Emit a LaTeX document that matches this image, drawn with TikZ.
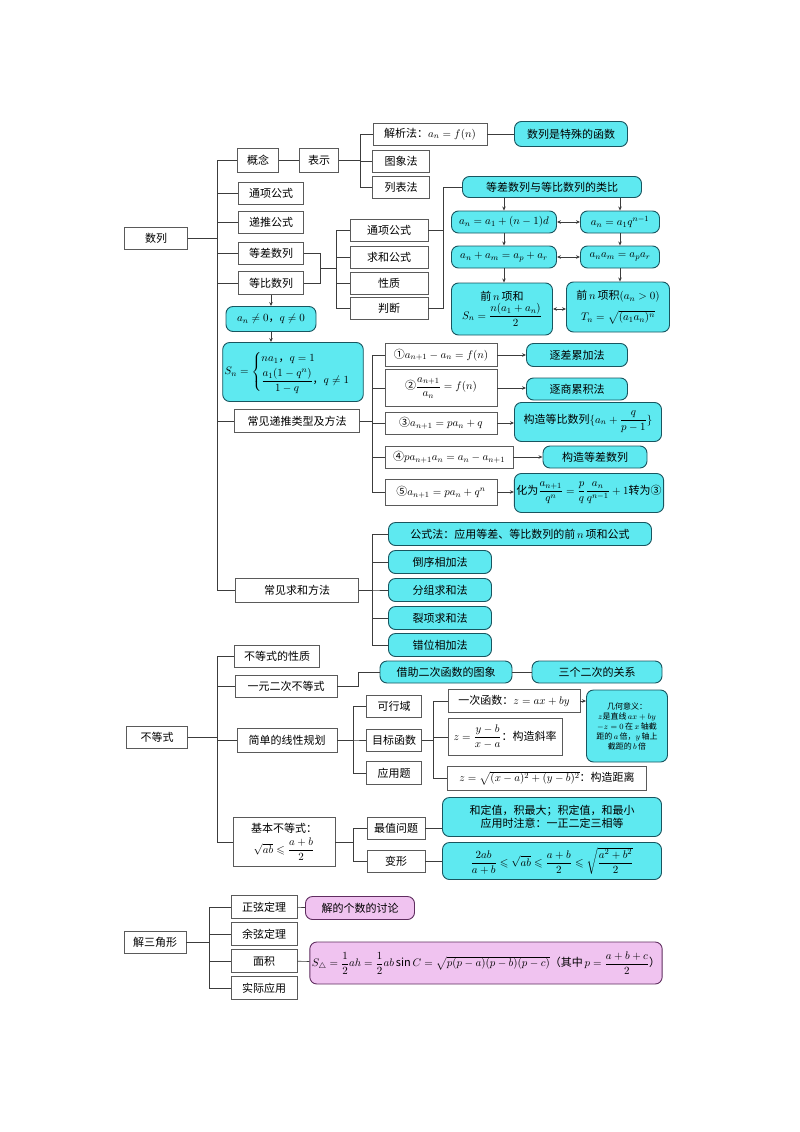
\documentclass[tikz,border=0pt]{standalone}
\usepackage{amsmath,amssymb}
\usepackage{fontspec}
\setmainfont{Noto Sans CJK SC}
\usetikzlibrary{arrows.meta}
\definecolor{boxline}{RGB}{90,90,90}
\definecolor{linkgray}{RGB}{60,60,60}
\definecolor{cyanfill}{RGB}{94,233,240}
\definecolor{cyanline}{RGB}{25,85,95}
\definecolor{pinkfill}{RGB}{240,195,240}
\definecolor{pinkline}{RGB}{95,45,95}

\begin{document}
\begin{tikzpicture}[x=1pt, y=-1pt,
  font=\fontsize{11}{13}\selectfont,
  >=Stealth,
  box/.style={rectangle, draw=boxline, fill=white, line width=0.6pt,
    inner sep=1pt, align=center},
  cbox/.style={rectangle, rounded corners=7pt, draw=cyanline, fill=cyanfill,
    line width=0.9pt, inner sep=2pt, align=center},
  pbox/.style={rectangle, rounded corners=7pt, draw=pinkline, fill=pinkfill,
    line width=0.9pt, inner sep=2pt, align=center},
  sz/.style 2 args={minimum width=#1pt, minimum height=#2pt},
  link/.style={draw=linkgray, line width=0.7pt},
  arrow/.style={link, -{Stealth[length=4pt,width=3.5pt]}},
  twoway/.style={link, {Stealth[length=4pt,width=3.5pt]}-{Stealth[length=4pt,width=3.5pt]}}
]
\useasboundingbox (0,0) rectangle (800,1132);

% 数列 — left column
\node[box, sz={63}{22}] (shulie)    at (156,238) {数列};
\node[box, sz={41}{24}] (gainian)   at (258,160) {概念};
\node[box, sz={39}{24}] (biaoshi)   at (319,160) {表示};
\node[box, sz={65}{22}] (tongxiang) at (271,193) {通项公式};
\node[box, sz={65}{22}] (ditui)     at (271,222) {递推公式};
\node[box, sz={65}{22}] (dengcha)   at (271,253) {等差数列};
\node[box, sz={65}{23}] (dengbi)    at (271,283) {等比数列};
\node[cbox, sz={90}{25}] (cond)     at (271,319) {$a_n\neq0$，$q\neq0$};
\node[cbox, sz={137}{59}] (sumq)    at (293,372)
  {$S_n=\begin{cases} na_1\text{，}q=1\\[2pt] \dfrac{a_1(1-q^n)}{1-q}\text{，}q\neq1\end{cases}$};
\node[box, sz={125}{23}] (tuilei)   at (297,421) {常见递推类型及方法};
\node[box, sz={123}{24}] (qiuhe)    at (297,590) {常见求和方法};

% 表示
\node[box, sz={114}{22}] (jiexi)    at (430,134) {解析法：$a_n=f(n)$};
\node[cbox, sz={113}{25}] (hanshu)  at (571,134) {数列是特殊的函数};
\node[box, sz={57}{22}] (tuxiang)   at (401,161) {图象法};
\node[box, sz={57}{22}] (liebiao)   at (401,187) {列表法};

% 等差与等比
\node[box, sz={78}{22}] (txgs) at (389,230) {通项公式};
\node[box, sz={78}{22}] (qhgs) at (389,257) {求和公式};
\node[box, sz={78}{22}] (xz)   at (389,283) {性质};
\node[box, sz={78}{22}] (pd)   at (389,308) {判断};
\node[cbox, sz={179}{21}] (leibi) at (552,187) {等差数列与等比数列的类比};
\node[cbox, sz={105}{22}] (a1) at (504,222) {$a_n=a_1+(n-1)d$};
\node[cbox, sz={79}{22}]  (b1) at (620,222) {$a_n=a_1q^{n-1}$};
\node[cbox, sz={105}{22}] (a2) at (504,257) {$a_n+a_m=a_p+a_r$};
\node[cbox, sz={79}{22}]  (b2) at (620,257) {$a_na_m=a_pa_r$};
\node[cbox, sz={101}{52}] (a3) at (502,309)
  {前$\,n\,$项和\\[1pt] $S_n=\dfrac{n(a_1+a_n)}{2}$};
\node[cbox, sz={103}{50}] (b3) at (618,307)
  {前$\,n\,$项积$(a_n>0)$\\[7pt] $T_n=\sqrt{(a_1a_n)^n}$};

% 递推类型
\node[box, sz={112}{23}] (r1) at (441,355) {①$a_{n+1}-a_n=f(n)$};
\node[box, sz={112}{37}] (r2) at (441,388) {②$\dfrac{a_{n+1}}{a_n}=f(n)$};
\node[box, sz={112}{22}] (r3) at (441,423) {③$a_{n+1}=pa_n+q$};
\node[box, sz={128}{22}] (r4) at (449,457) {④$pa_{n+1}a_n=a_n-a_{n+1}$};
\node[box, sz={112}{26}] (r5) at (441,492) {⑤$a_{n+1}=pa_n+q^n$};
\node[cbox, sz={101}{23}] (m1) at (577,355) {逐差累加法};
\node[cbox, sz={101}{22}] (m2) at (577,389) {逐商累积法};
\node[cbox, sz={147}{39}] (m3) at (588,422)
  {构造等比数列$\{a_n+\dfrac{q}{p-1}\}$};
\node[cbox, sz={104}{22}] (m4) at (595,457) {构造等差数列};
\node[cbox, sz={148}{39}] (m5) at (589,493)
  {化为$\dfrac{a_{n+1}}{q^n}=\dfrac{p}{q}\dfrac{a_n}{q^{n-1}}+1$转为③};

% 求和方法
\node[cbox, sz={263}{23}] (s0) at (520,534) {公式法：应用等差、等比数列的前$\,n\,$项和公式};
\node[cbox, sz={103}{23}] (s1) at (440,562) {倒序相加法};
\node[cbox, sz={103}{23}] (s2) at (440,590) {分组求和法};
\node[cbox, sz={103}{23}] (s3) at (440,618) {裂项求和法};
\node[cbox, sz={103}{23}] (s4) at (440,645) {错位相加法};

% 不等式
\node[box, sz={61}{22}]  (budeng) at (157,737) {不等式};
\node[box, sz={85}{22}]  (bx)     at (277,656) {不等式的性质};
\node[box, sz={102}{22}] (yy)     at (286,686) {一元二次不等式};
\node[box, sz={100}{24}] (xg)     at (287,740) {简单的线性规划};
\node[box, sz={102}{49}] (jb)     at (284,842) {基本不等式：\\[4pt] $\sqrt{ab}\leqslant\dfrac{a+b}{2}$};
\node[cbox, sz={132}{22}] (tu)    at (446,672) {借助二次函数的图象};
\node[cbox, sz={130}{22}] (sg)    at (597,672) {三个二次的关系};
\node[box, sz={55}{22}] (kx) at (394,706) {可行域};
\node[box, sz={55}{22}] (mb) at (394,740) {目标函数};
\node[box, sz={55}{23}] (yt) at (394,773) {应用题};
\node[box, sz={132}{23}] (yc) at (514,701) {一次函数：$z=ax+by$};
\node[box, sz={114}{37}] (xl) at (505,737) {$z=\dfrac{y-b}{x-a}$：构造斜率};
\node[box, sz={199}{24}] (jl) at (547,778) {$z=\sqrt{(x-a)^2+(y-b)^2}$：构造距离};
\node[cbox, sz={81}{72}, font=\fontsize{8}{10}\selectfont, inner sep=1pt] (jh) at (627,726)
  {几何意义：\\ $z$是直线$\,ax+by$\\ $-z=0\,$在$\,x\,$轴截\\ 距的$\,a\,$倍，$y\,$轴上\\ 截距的$\,b\,$倍};
\node[box, sz={58}{22}] (zz)  at (396,828) {最值问题};
\node[box, sz={58}{22}] (bx2) at (396,861) {变形};
\node[cbox, sz={219}{39}] (hd) at (552,817)
  {和定值，积最大；积定值，和最小\\ 应用时注意：一正二定三相等};
\node[cbox, sz={219}{37}] (bd) at (552,861)
  {$\dfrac{2ab}{a+b}\leqslant\sqrt{ab}\leqslant\dfrac{a+b}{2}\leqslant\sqrt{\dfrac{a^2+b^2}{2}}$};

% 解三角形
\node[box, sz={62}{22}] (sj) at (155,942) {解三角形};
\node[box, sz={66}{23}] (zx) at (264,907) {正弦定理};
\node[box, sz={66}{23}] (yx) at (264,934) {余弦定理};
\node[box, sz={66}{23}] (mj) at (264,961) {面积};
\node[box, sz={66}{23}] (sy) at (264,988) {实际应用};
\node[pbox, sz={109}{23}] (gs) at (360,908) {解的个数的讨论};
\node[pbox, sz={340}{42}] (mf) at (486,963)
  {$S_\triangle=\dfrac12ah=\dfrac12ab\sin C=\sqrt{p(p-a)(p-b)(p-c)}$（其中$\,p=\dfrac{a+b+c}{2}$）};

% spines
\coordinate (sp1) at (217,0);
\coordinate (sp2) at (360,0);
\coordinate (sp3) at (320,268);
\coordinate (sp4) at (336,0);
\coordinate (sp5) at (443,0);
\coordinate (sp6) at (372,0);
\coordinate (sp7) at (358,0);
\coordinate (sp8) at (353,0);
\coordinate (sp9) at (433,0);
\coordinate (sp10) at (209,0);

% 数列 links
\foreach \n in {gainian,tongxiang,ditui,dengcha,dengbi,tuilei,qiuhe}
  \draw[link] (shulie.east) -- (shulie.east -| sp1) |- (\n.west);
\draw[link] (gainian) -- (biaoshi);
\foreach \n in {jiexi,tuxiang,liebiao}
  \draw[link] (biaoshi.east) -- (biaoshi.east -| sp2) |- (\n.west);
\draw[link] (jiexi) -- (hanshu);
\draw[link] (dengcha.east) -| (sp3);
\draw[link] (dengbi.east) -| (sp3);
\foreach \n in {txgs,qhgs,xz,pd}
  \draw[link] (sp3) -- (sp3 -| sp4) |- (\n.west);
\foreach \n in {txgs,pd}
  \draw[link] (\n.east) -- (\n.east -| sp5) |- (leibi.west);
\draw[arrow] (dengbi.south) -- (cond.north);
\draw[arrow] (cond.south) -- (cond.south |- sumq.north);

% 类比 arrows
\draw[arrow] (a1.north |- leibi.south) -- (a1.north);
\draw[arrow] (b1.north |- leibi.south) -- (b1.north);
\draw[arrow] (a1) -- (a2);
\draw[arrow] (b1) -- (b2);
\draw[arrow] (a2.south) -- (a2.south |- a3.north);
\draw[arrow] (b2.south) -- (b2.south |- b3.north);
\draw[twoway] (a1) -- (b1);
\draw[twoway] (a2) -- (b2);
\draw[twoway] (a3.east) -- (a3.east -| b3.west);

% 递推 and 求和
\foreach \n in {r1,r2,r3,r4,r5}
  \draw[link] (tuilei.east) -- (tuilei.east -| sp6) |- (\n.west);
\foreach \a/\b in {r1/m1,r2/m2,r3/m3,r4/m4,r5/m5}
  \draw[arrow] (\a.east) -- (\a.east -| \b.west);
\foreach \n in {s0,s1,s2,s3,s4}
  \draw[link] (qiuhe.east) -- (qiuhe.east -| sp6) |- (\n.west);

% 不等式 links
\foreach \n in {bx,yy,xg,jb}
  \draw[link] (budeng.east) -- (budeng.east -| sp1) |- (\n.west);
\draw[link] (yy.east) -- (yy.east -| sp7) |- (tu.west);
\draw[link] (tu) -- (sg);
\foreach \n in {kx,mb,yt}
  \draw[link] (xg.east) -- (xg.east -| sp8) |- (\n.west);
\foreach \n in {yc,xl,jl}
  \draw[link] (mb.east) -- (mb.east -| sp9) |- (\n.west);
\draw[arrow] (yc.east) -- (yc.east -| jh.west);
\foreach \n in {zz,bx2}
  \draw[link] (jb.east) -- (jb.east -| sp8) |- (\n.west);
\draw[link] (zz.east) -- (zz.east -| hd.west);
\draw[link] (bx2.east) -- (bx2.east -| bd.west);

% 解三角形 links
\foreach \n in {zx,yx,mj,sy}
  \draw[link] (sj.east) -- (sj.east -| sp10) |- (\n.west);
\draw[link] (zx) -- (gs);
\draw[link] (mj) -- (mf);

\end{tikzpicture}
\end{document}
